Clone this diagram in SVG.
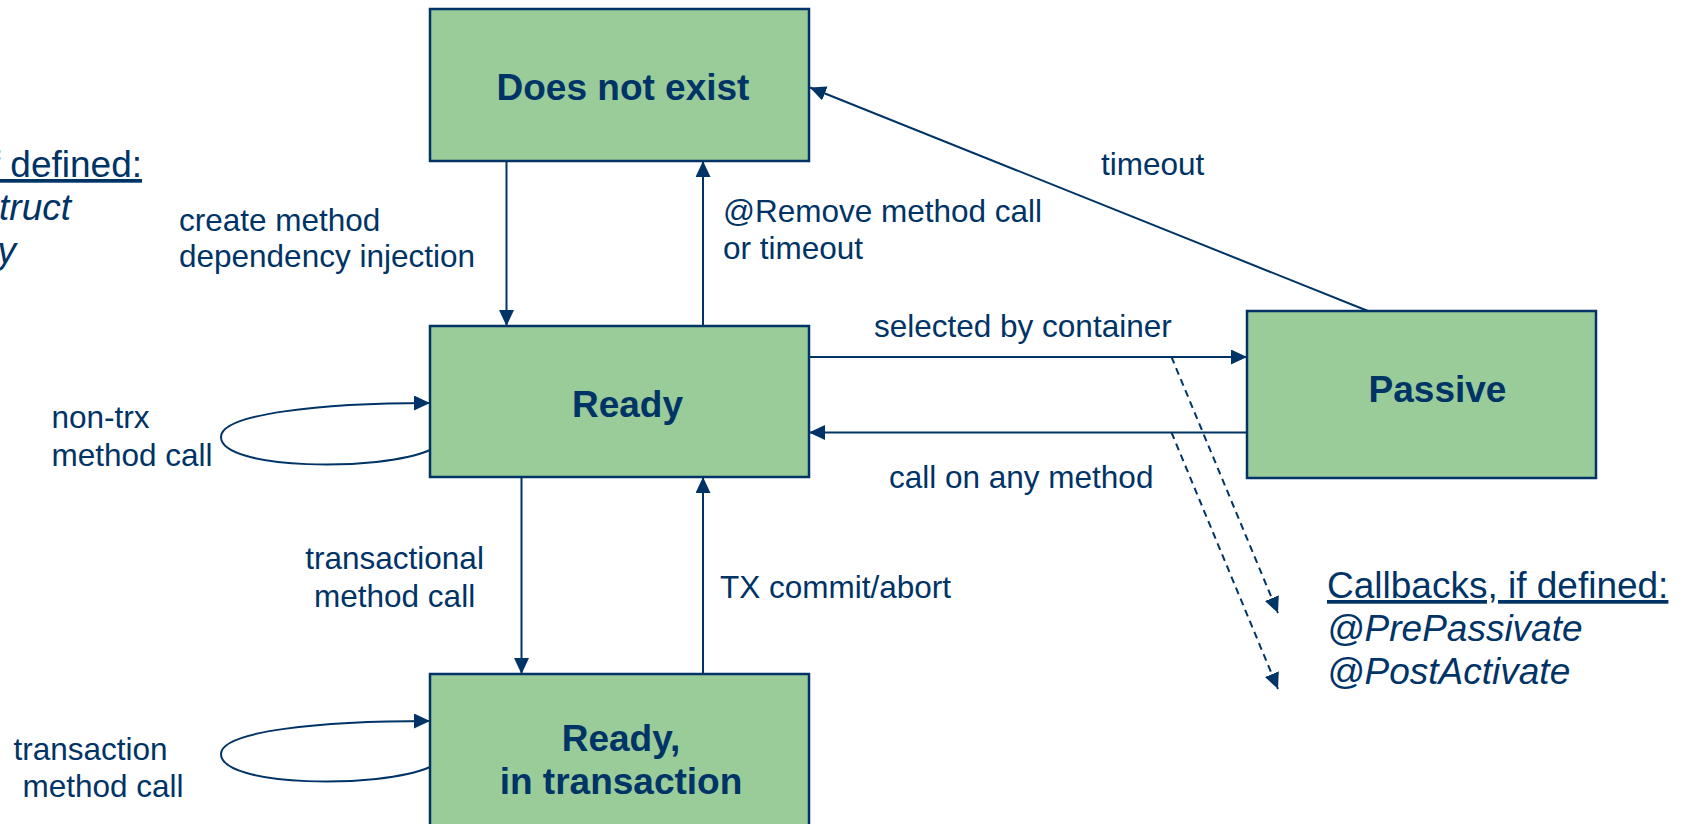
<svg xmlns="http://www.w3.org/2000/svg" width="1692" height="824" viewBox="0 0 1692 824">
  <defs>
    <style>
      .state { fill: #99cc99; stroke: #003366; stroke-width: 2.5; }
      .state-label { font-family: "Liberation Sans", Arial, sans-serif; font-weight: bold; font-size: 37px; fill: #003366; text-anchor: middle; }
      .label { font-family: "Liberation Sans", Arial, sans-serif; font-size: 31.5px; fill: #003366; }
      .note { font-family: "Liberation Sans", Arial, sans-serif; font-size: 37px; fill: #003366; }
      .note-title { text-decoration: underline; }
      .cb { font-style: italic; }
      .edge { fill: none; stroke: #003366; stroke-width: 2; }
      .dashed { stroke-dasharray: 7 5; }
    </style>
    <marker id="arrow" markerUnits="userSpaceOnUse" markerWidth="17" markerHeight="16" refX="16" refY="7.5" orient="auto">
      <path d="M0,0 L16,7.5 L0,15 z" fill="#003366"/>
    </marker>
  </defs>

  <!-- states -->
  <g id="does-not-exist">
    <rect class="state" x="430" y="9" width="379" height="152"/>
    <text class="state-label" x="623" y="100">Does not exist</text>
  </g>
  <g id="ready">
    <rect class="state" x="430" y="326" width="379" height="151"/>
    <text class="state-label" x="627.5" y="417">Ready</text>
  </g>
  <g id="passive">
    <rect class="state" x="1247" y="311" width="349" height="167"/>
    <text class="state-label" x="1437.5" y="402">Passive</text>
  </g>
  <g id="ready-in-transaction">
    <rect class="state" x="430" y="674" width="379" height="170"/>
    <text class="state-label" x="621" y="751">Ready,</text>
    <text class="state-label" x="621" y="794">in transaction</text>
  </g>

  <!-- transitions -->
  <g id="connectors">
    <line class="edge" x1="506.5" y1="161" x2="506.5" y2="326" marker-end="url(#arrow)"/>
    <line class="edge" x1="703" y1="326" x2="703" y2="161" marker-end="url(#arrow)"/>
    <line class="edge" x1="1368" y1="311" x2="810" y2="87.5" marker-end="url(#arrow)"/>
    <line class="edge" x1="809" y1="357" x2="1247" y2="357" marker-end="url(#arrow)"/>
    <line class="edge" x1="1247" y1="432.5" x2="809" y2="432.5" marker-end="url(#arrow)"/>
    <line class="edge" x1="521.5" y1="477" x2="521.5" y2="674" marker-end="url(#arrow)"/>
    <line class="edge" x1="703" y1="674" x2="703" y2="477" marker-end="url(#arrow)"/>
    <path class="edge" d="M430,450 C380,472 221,470 221,437 C221,414 320,403 430,403" marker-end="url(#arrow)"/>
    <path class="edge" d="M430,767 C380,789 221,787 221,754 C221,731 320,721 430,721" marker-end="url(#arrow)"/>
    <line class="edge dashed" x1="1171.5" y1="357" x2="1278" y2="613" marker-end="url(#arrow)"/>
    <line class="edge dashed" x1="1171.5" y1="432.5" x2="1278" y2="689" marker-end="url(#arrow)"/>
  </g>

  <!-- transition labels -->
  <g id="labels">
    <text class="label" x="179" y="231">create method</text>
    <text class="label" x="179" y="267">dependency injection</text>
    <text class="label" x="723" y="222">@Remove method call</text>
    <text class="label" x="723" y="259">or timeout</text>
    <text class="label" x="1101" y="175">timeout</text>
    <text class="label" x="874" y="337">selected by container</text>
    <text class="label" x="889" y="488">call on any method</text>
    <text class="label" x="51.5" y="428">non-trx</text>
    <text class="label" x="51.5" y="466">method call</text>
    <text class="label" x="394.6" y="569" text-anchor="middle">transactional</text>
    <text class="label" x="394.6" y="607" text-anchor="middle">method call</text>
    <text class="label" x="720" y="598">TX commit/abort</text>
    <text class="label" x="13.5" y="760">transaction</text>
    <text class="label" x="22.5" y="797">method call</text>
  </g>

  <!-- lifecycle callback notes (left block runs off the left edge) -->
  <g id="callbacks-create">
    <text class="note note-title" x="142" y="177" text-anchor="end">Callbacks, if defined:</text>
    <text class="note cb" x="71" y="220" text-anchor="end">@PostConstruct</text>
    <text class="note cb" x="16" y="263" text-anchor="end">@PreDestroy</text>
  </g>
  <g id="callbacks-passivation">
    <text class="note note-title" x="1327" y="598">Callbacks, if defined:</text>
    <text class="note cb" x="1327" y="641">@PrePassivate</text>
    <text class="note cb" x="1327" y="684">@PostActivate</text>
  </g>
</svg>
